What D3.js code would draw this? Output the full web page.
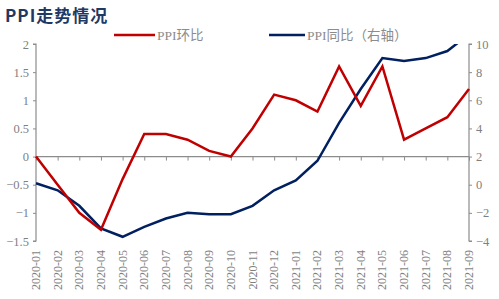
<!DOCTYPE html>
<html>
<head>
<meta charset="utf-8">
<script src="https://cdn.jsdelivr.net/npm/d3@7"></script>
<style>
  body { margin: 0; background: #fff; }
  svg text { font-family: "Liberation Serif", "DejaVu Serif", serif; }
</style>
</head>
<body>
<div id="chart"></div>
<script>
// data
const months = ["2020-01","2020-02","2020-03","2020-04","2020-05","2020-06","2020-07",
  "2020-08","2020-09","2020-10","2020-11","2020-12","2021-01","2021-02","2021-03",
  "2021-04","2021-05","2021-06","2021-07","2021-08","2021-09"];
const ppiMom = [0.0,-0.5,-1.0,-1.3,-0.4,0.4,0.4,0.3,0.1,0.0,0.5,1.1,1.0,0.8,1.6,0.9,1.6,0.3,0.5,0.7,1.2];
const ppiYoy = [0.1,-0.4,-1.5,-3.1,-3.7,-3.0,-2.4,-2.0,-2.1,-2.1,-1.5,-0.4,0.3,1.7,4.4,6.8,9.0,8.8,9.0,9.5,10.7];
const leftTicks = [-1.5,-1,-0.5,0,0.5,1,1.5,2];
const rightTicks = [-4,-2,0,2,4,6,8,10];

const w = 499, h = 299;
const plotL = 36, plotR = 469, plotT = 44, plotB = 241;

const svg = d3.select('#chart').append('svg')
    .attr('width', w)
    .attr('height', h);

const x = d3.scalePoint().domain(months).range([plotL, plotR]);
const yL = d3.scaleLinear().domain([-1.5, 2]).range([plotB, plotT]);
const yR = d3.scaleLinear().domain([-4, 10]).range([plotB, plotT]);

// title
svg.append('text')
    .text('PPI走势情况')
    .attr('x', 5)
    .attr('y', 22)
    .attr('fill', '#1f3864')
    .style('font-family', '"Noto Sans CJK SC", sans-serif')
    .style('font-weight', 'bold')
    .style('letter-spacing', '1px')
    .style('font-size', '17px');

// legend
const legend = [
  {name: 'PPI环比', color: '#c00000', x1: 114, x2: 155},
  {name: 'PPI同比（右轴）', color: '#002060', x1: 269, x2: 305}
];
legend.forEach(d => {
  svg.append('line')
      .attr('x1', d.x1).attr('x2', d.x2)
      .attr('y1', 35).attr('y2', 35)
      .attr('stroke', d.color)
      .attr('stroke-width', 2.5);
  svg.append('text')
      .text(d.name)
      .attr('x', d.x2 + 2)
      .attr('y', 39.5)
      .attr('fill', '#8c8c8c')
      .style('font-size', '13.5px')
      .style('font-family', '"Liberation Serif", "Noto Sans CJK SC", serif');
});

// left axis
const axL = svg.append('g')
    .attr('transform', 'translate(' + plotL + ',0)')
    .call(d3.axisLeft(yL).tickValues(leftTicks).tickSize(3).tickPadding(4)
      .tickFormat(d3.format('')));
// right axis
const axR = svg.append('g')
    .attr('transform', 'translate(' + plotR + ',0)')
    .call(d3.axisRight(yR).tickValues(rightTicks).tickSize(3).tickPadding(4));

[axL, axR].forEach(ax => {
  ax.select('.domain').attr('stroke', '#8c8c8c').attr('stroke-width', 1.2)
  ax.selectAll('.tick line').attr('stroke', '#8c8c8c')
  ax.selectAll('.tick text')
      .attr('fill', '#7f7f7f')
      .style('font-size', '12.5px')
      .style('font-family', '"Liberation Serif", serif');
});
axL.select('.domain').attr('d', 'M-3,' + plotT + 'H0V' + plotB + 'H-3');
axR.select('.domain').attr('d', 'M3,' + plotT + 'H0V' + plotB + 'H3');

// x axis at zero
const axX = svg.append('g')
    .attr('transform', 'translate(0,' + yL(0) + ')')
    .call(d3.axisBottom(x).tickSize(4).tickFormat(''));
axX.select('.domain').attr('stroke', '#8c8c8c').attr('stroke-width', 1.2).attr('d', 'M' + plotL + ',0H' + plotR);
axX.selectAll('.tick line').attr('stroke', '#8c8c8c');

// month labels at bottom
svg.append('g').selectAll('text')
    .data(months)
    .enter()
    .append('text')
    .text(d => d)
    .attr('transform', d => 'translate(' + (x(d) + 4) + ',250) rotate(-90)')
    .attr('text-anchor', 'end')
    .attr('fill', '#7f7f7f')
    .style('font-size', '12px');

// clip to the plot
svg.append('clipPath').attr('id', 'plot')
  .append('rect')
    .attr('x', plotL - 2).attr('y', plotT)
    .attr('width', plotR - plotL + 4).attr('height', plotB - plotT + 2);

const lineL = d3.line().x((d, i) => x(months[i])).y(d => yL(d));
const lineR = d3.line().x((d, i) => x(months[i])).y(d => yR(d));

svg.append('path')
    .datum(ppiYoy)
    .attr('d', lineR)
    .attr('clip-path', 'url(#plot)')
    .attr('stroke', '#002060')
    .attr('stroke-width', 2.5)
    .attr('fill', 'none');

svg.append('path')
    .datum(ppiMom)
    .attr('d', lineL)
    .attr('clip-path', 'url(#plot)')
    .attr('stroke', '#c00000')
    .attr('stroke-width', 2.5)
    .attr('fill', 'none');
</script>
</body>
</html>
